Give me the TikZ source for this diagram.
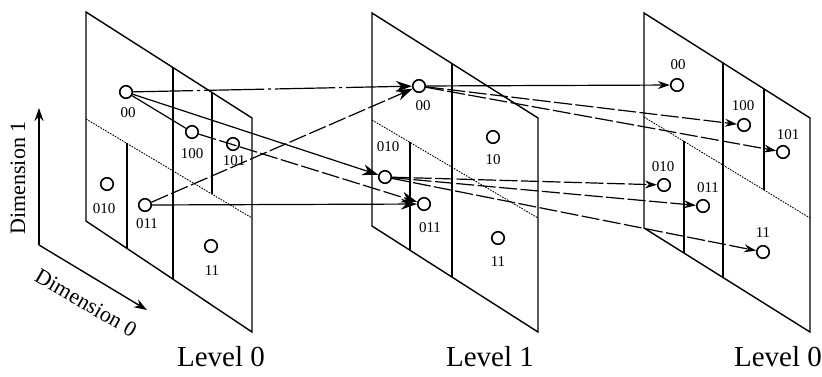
\documentclass[tikz,border=0pt]{standalone}
\usepackage{fontspec}
\setmainfont{Liberation Serif}
\usetikzlibrary{arrows.meta}
\begin{document}
\begin{tikzpicture}[x=1pt,y=-1pt,
  panel/.style={line width=1.4pt},
  split/.style={line width=0.9pt, dash pattern=on 1.6pt off 1.2pt},
  pt/.style={circle, draw, line width=1.6pt, minimum size=12.5pt, inner sep=0pt},
  lab/.style={font=\fontsize{15}{15}\selectfont, inner sep=0pt},
  lvl/.style={font=\fontsize{29}{29}\selectfont, inner sep=0pt, anchor=base},
  dimlab/.style={font=\fontsize{22}{22}\selectfont, inner sep=0pt},
  conn/.style={line width=1.2pt},
  dsh/.style={conn, dash pattern=on 18pt off 3.5pt},
  dshdot/.style={conn, dash pattern=on 60pt off 4pt on 3pt off 4pt},
  tipA/.style={-{Stealth[length=16pt,width=11pt]}},
  tipB/.style={-{Stealth[length=12pt,width=8pt]}},
  axis/.style={line width=1.4pt, -{Stealth[length=13pt,width=9pt]}},
]
\useasboundingbox (0,0) rectangle (822,376);

% ---------- Panel 1 (Level 0, left)
\draw[panel] (86,12) -- (252,118) -- (252,332) -- (86,221) -- cycle;
\draw[split] (86,119) -- (252,218);
\draw[panel] (173,67.6) -- (173,279);
\draw[panel] (212,92.5) -- (212,194);
\draw[panel] (127,143.4) -- (127,248.4);

% ---------- Panel 2 (Level 1)
\draw[panel] (372,13) -- (538,118) -- (538,332) -- (372,226) -- cycle;
\draw[split] (372,120) -- (538,218);
\draw[panel] (452,63.6) -- (452,277);
\draw[panel] (410,142.4) -- (410,250.3);

% ---------- Panel 3 (Level 0, right)
\draw[panel] (644,13) -- (810,118) -- (810,332) -- (644,228) -- cycle;
\draw[split] (644,117) -- (810,218);
\draw[panel] (723,63) -- (723,277.5);
\draw[panel] (764,89) -- (764,190);
\draw[panel] (684,141.3) -- (684,253);

% ---------- points, panel 1
\node[pt] (a00)  at (126,92) {};
\node[pt] (a100) at (192,132) {};
\node[pt] (a101) at (233,144) {};
\node[pt] (a010) at (107,184) {};
\node[pt] (a011) at (145,205) {};
\node[pt] (a11)  at (211,246) {};
\node[lab] (la00)  at (128,113) {00};
\node[lab] (la100) at (192,154) {100};
\node[lab] (la101) at (234,161) {101};
\node[lab] (la010) at (104,209) {010};
\node[lab] (la011) at (147,224) {011};
\node[lab] (la11)  at (212,271) {11};

% ---------- points, panel 2
\node[pt] (b00)  at (419,86) {};
\node[pt] (b10)  at (493,137) {};
\node[pt] (b010) at (385,177) {};
\node[pt] (b011) at (424,204) {};
\node[pt] (b11)  at (498,238) {};
\node[lab] (lb00)  at (423,106) {00};
\node[lab] (lb10)  at (493,160) {10};
\node[lab] (lb010) at (388,147) {010};
\node[lab] (lb011) at (430,228) {011};
\node[lab] (lb11)  at (498,262) {11};

% ---------- points, panel 3
\node[pt] (c00)  at (677,85) {};
\node[pt] (c100) at (744,125) {};
\node[pt] (c101) at (783,152) {};
\node[pt] (c010) at (664,185) {};
\node[pt] (c011) at (703,206) {};
\node[pt] (c11)  at (763,252) {};
\node[lab] (lc00)  at (678,65) {00};
\node[lab] (lc100) at (743,106) {100};
\node[lab] (lc101) at (788,135) {101};
\node[lab] (lc010) at (663,167) {010};
\node[lab] (lc011) at (708,188) {011};
\node[lab] (lc11)  at (763,233) {11};

% ---------- connectors Level 0 -> Level 1
\draw[dshdot, tipA] (a00) -- (b00);
\draw[dsh, tipA] (a011) -- (b00);
\draw[conn, tipA] (a00) -- (b010);
\draw[conn] (a00) -- (a100);
\draw[dsh, tipA] (a100) -- (b011);
\draw[conn, tipA] (a011) -- (b011);

% ---------- connectors Level 1 -> Level 0
\draw[conn, tipB] (b00) -- (c00);
\draw[dsh, tipB] (b00) -- (c100);
\draw[dsh, tipB] (b00) -- (c101);
\draw[dsh, tipB] (b010) -- (c010);
\draw[dsh, tipB] (b010) -- (c011);
\draw[dsh, tipB] (b010) -- (c11);

% ---------- axes
\coordinate (ax0) at (39,245);
\coordinate (ax1) at (39,108);
\coordinate (ax2) at (147,310);
\draw[axis] (ax0) -- (ax1);
\draw[axis] (ax0) -- (ax2);
\node[dimlab, rotate=90] (d1) at (18,178) {Dimension 1};
\node[dimlab, rotate=-30] (d0) at (86,303) {Dimension 0};

% ---------- level captions
\node[lvl] (l0a) at (221,366) {Level 0};
\node[lvl] (l1)  at (490,366) {Level 1};
\node[lvl] (l0b) at (778,366) {Level 0};
\end{tikzpicture}
\end{document}
